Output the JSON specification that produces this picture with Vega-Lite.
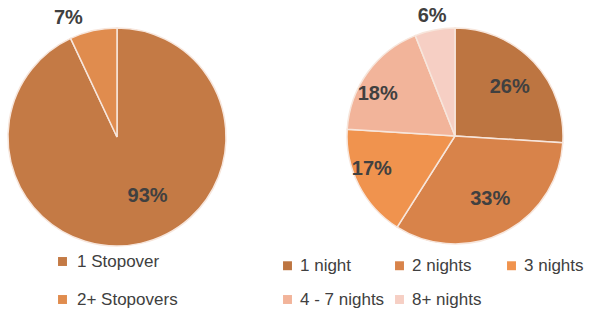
{
  "$schema": "https://vega.github.io/schema/vega-lite/v6.json",
  "padding": 0,
  "bounds": "flush",
  "spacing": 113,
  "background": "white",
  "config": {
    "view": {"stroke": null},
    "font": "Liberation Sans",
    "legend": {"padding": 0, "labelFont": "Liberation Sans", "labelFontSize": 17, "labelColor": "#404040", "symbolType": "square", "symbolSize": 80, "symbolStrokeWidth": 0, "title": null, "labelLimit": 200}
  },
  "hconcat": [
    {
      "width": 234,
      "height": 274,
      "data": {"values": [
        {"cat": "1 Stopover", "pct": 0.93, "ord": 1},
        {"cat": "2+ Stopovers", "pct": 0.07, "ord": 2}
      ]},
      "encoding": {
        "theta": {"field": "pct", "type": "quantitative", "stack": true},
        "order": {"field": "ord", "type": "quantitative"}
      },
      "layer": [
        {
          "mark": {"type": "arc", "outerRadius": 109, "stroke": "#f7e6dc", "strokeWidth": 1.5},
          "encoding": {
            "color": {"field": "cat", "type": "nominal",
              "scale": {"domain": ["1 Stopover", "2+ Stopovers"], "range": ["#C47A45", "#E08C4E"]},
              "legend": {"orient": "none", "legendX": 54, "legendY": 253, "direction": "vertical", "rowPadding": 20, "labelOffset": 6}}
          }
        },
        {
          "mark": {"type": "text", "radius": 67, "fontSize": 20, "fontWeight": "bold", "color": "#404040", "dx": 16, "dy": -6},
          "encoding": {"text": {"condition": {"test": "datum.pct < 0.1", "value": ""}, "field": "pct", "type": "quantitative", "format": ".0%"}}
        },
        {
          "mark": {"type": "text", "radius": 122, "fontSize": 20, "fontWeight": "bold", "color": "#404040", "dx": -22},
          "encoding": {"text": {"condition": {"test": "datum.pct >= 0.1", "value": ""}, "field": "pct", "type": "quantitative", "format": ".0%"}}
        }
      ]
    },
    {
      "width": 216,
      "height": 272,
      "data": {"values": [
        {"cat": "1 night", "pct": 0.26, "ord": 1},
        {"cat": "2 nights", "pct": 0.33, "ord": 2},
        {"cat": "3 nights", "pct": 0.17, "ord": 3},
        {"cat": "4 - 7 nights", "pct": 0.18, "ord": 4},
        {"cat": "8+ nights", "pct": 0.06, "ord": 5}
      ]},
      "encoding": {
        "theta": {"field": "pct", "type": "quantitative", "stack": true},
        "order": {"field": "ord", "type": "quantitative"}
      },
      "layer": [
        {
          "mark": {"type": "arc", "outerRadius": 108, "stroke": "#f7e6dc", "strokeWidth": 1.5},
          "encoding": {
            "color": {"field": "cat", "type": "nominal",
              "scale": {"domain": ["1 night", "2 nights", "3 nights", "4 - 7 nights", "8+ nights"], "range": ["#BD7541", "#D8834A", "#F0934E", "#F2B49A", "#F6CFC4"]},
              "legend": {"orient": "none", "legendX": -68, "legendY": 257, "direction": "horizontal", "columns": 3, "gridAlign": "all", "columnPadding": 6, "rowPadding": 16, "labelOffset": 4}}
          }
        },
        {
          "mark": {"type": "text", "radius": 71, "fontSize": 20, "fontWeight": "bold", "color": "#404040", "dx": 3},
          "encoding": {"text": {"condition": {"test": "datum.ord > 2", "value": ""}, "field": "pct", "type": "quantitative", "format": ".0%"}}
        },
        {
          "mark": {"type": "text", "radius": 72, "fontSize": 20, "fontWeight": "bold", "color": "#404040", "dx": -19},
          "encoding": {"text": {"condition": {"test": "datum.ord < 3 || datum.ord > 4", "value": ""}, "field": "pct", "type": "quantitative", "format": ".0%"}}
        },
        {
          "mark": {"type": "text", "radius": 122, "fontSize": 20, "fontWeight": "bold", "color": "#404040"},
          "encoding": {"text": {"condition": {"test": "datum.ord < 5", "value": ""}, "field": "pct", "type": "quantitative", "format": ".0%"}}
        }
      ]
    }
  ],
  "resolve": {"scale": {"color": "independent"}}
}
